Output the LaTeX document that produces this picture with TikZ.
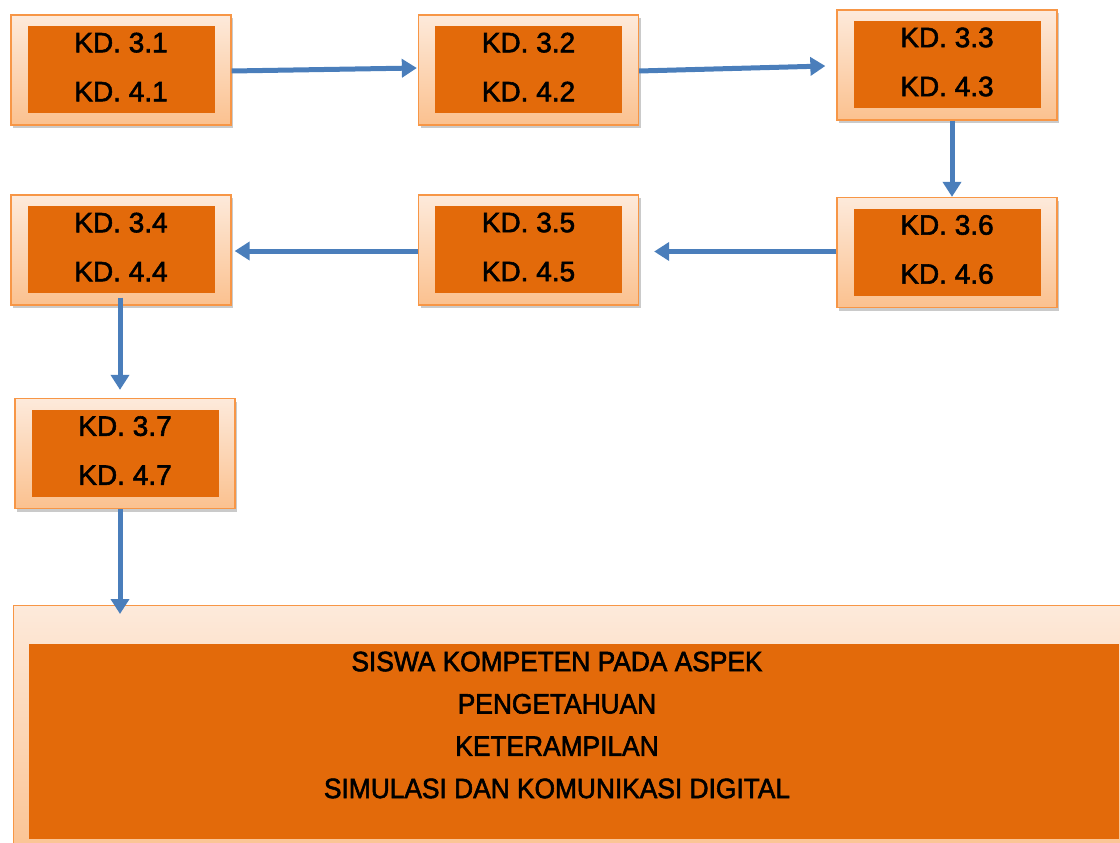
\documentclass[tikz,border=0pt]{standalone}
\usepackage{fontspec}
\setmainfont[FakeBold=2]{Liberation Sans}
\newfontfamily\bigfont[FakeBold=2,FakeStretch=0.94]{Liberation Sans}
\usetikzlibrary{arrows.meta,shadows}
\definecolor{boxborder}{HTML}{F79646}
\definecolor{boxtop}{HTML}{FDEADB}
\definecolor{boxbot}{HTML}{FBC18F}
\definecolor{innerfill}{HTML}{E36A0A}
\definecolor{arrowblue}{HTML}{4A7EBB}
\tikzset{
  outerbox/.style={draw=boxborder, line width=1.3pt, top color=boxtop, bottom color=boxbot,
    minimum width=220pt, minimum height=110pt, inner sep=0pt,
    drop shadow={shadow xshift=2pt, shadow yshift=-3pt, opacity=0.35, fill=black!60}},
  innerbox/.style={fill=innerfill, minimum width=187pt, minimum height=87pt, inner sep=0pt},
  kdtext/.style={align=center, font=\fontsize{28}{49}\selectfont, text=black, inner sep=0pt},
  flow/.style={draw=arrowblue, line width=5pt, -{Triangle[width=18pt,length=15pt]}}
}
\begin{document}
\begin{tikzpicture}[x=1pt,y=-1pt]
\useasboundingbox (0,0) rectangle (1120,843);
% big box
\begin{scope}
\clip (0,0) rectangle (1120,843);
\node[outerbox, minimum width=1130pt, minimum height=260pt, anchor=north west] (bigout) at (13,605) {};
\node[fill=innerfill, minimum width=1090pt, minimum height=195pt, inner sep=0pt, anchor=north west] (bigin) at (29,644) {};
\end{scope}
\node[align=center, font=\bigfont\fontsize{28}{42.3}\selectfont, inner sep=0pt] (bigtext) at (557,725)
  {SISWA KOMPETEN PADA ASPEK\\PENGETAHUAN\\KETERAMPILAN\\SIMULASI DAN KOMUNIKASI DIGITAL};
% small boxes
\foreach \n/\x/\y/\a in {b1/121/70/1, b2/528.5/70/2, b3/947/65/3, b4/121/250/4, b5/528.5/250/5, b6/947/252.5/6, b7/125/453.5/7}{
  \node[outerbox] (\n) at (\x,\y) {};
  \node[innerbox] (\n in) at (\x,\y-0.5) {};
  \node[kdtext, yshift=3pt] (\n txt) at (\x,\y) {KD. 3.\a\\KD. 4.\a};
}
% connectors
\draw[flow] ([yshift=-1pt]b1.east) -- ([yshift=2pt,xshift=-1pt]b2.west);
\draw[flow] ([yshift=-1pt]b2.east) -- ([yshift=-1pt,xshift=-11pt]b3.west);
\draw[flow] ([xshift=5pt]b3.south) -- ([xshift=5pt]b3.south |- b6.north);
\draw[flow] ([yshift=1pt]b6.west) -- ([xshift=15pt,yshift=1pt]b6.west -| b5.east);
\draw[flow] ([yshift=-1pt]b5.west) -- ([xshift=3pt,yshift=-1pt]b5.west -| b4.east);
\draw[flow] ([xshift=-1pt,yshift=8pt]b4.south) -- ([xshift=-1pt,yshift=8pt]b4.south |- b7.north);
\coordinate (bigtip) at (120,614);
\draw[flow] (b7.south -| bigtip) -- (bigtip);
\end{tikzpicture}
\end{document}
